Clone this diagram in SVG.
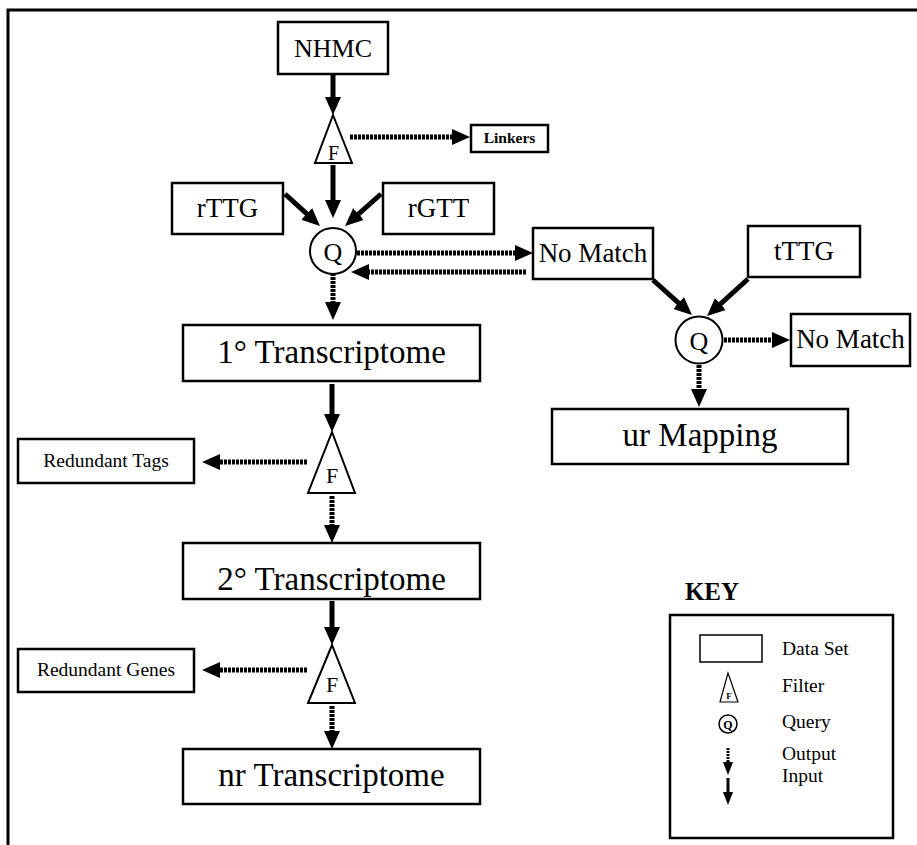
<svg xmlns="http://www.w3.org/2000/svg" width="917" height="845" viewBox="0 0 917 845">
<style>
  .box{fill:#fff;stroke:#000;stroke-width:2.5}
  .shape{fill:#fff;stroke:#000;stroke-width:2}
  .t{font-family:"Liberation Serif","Times New Roman",serif;fill:#000;text-anchor:middle}
  .tl{font-family:"Liberation Serif","Times New Roman",serif;fill:#000;text-anchor:start}
  .in{stroke:#000;stroke-width:5;fill:none}
  .out{stroke:#000;stroke-width:5;fill:none;stroke-dasharray:3 1}
  .kin{stroke:#000;stroke-width:3;fill:none}
  .kout{stroke:#000;stroke-width:3;fill:none;stroke-dasharray:2 1}
</style>
<defs>
  <marker id="ah" markerUnits="userSpaceOnUse" markerWidth="18" markerHeight="16" refX="2" refY="8" orient="auto">
    <path d="M0,0 L18,8 L0,16 z" fill="#000"/>
  </marker>
  <marker id="ahs" markerUnits="userSpaceOnUse" markerWidth="13" markerHeight="10" refX="1" refY="5" orient="auto">
    <path d="M0,0 L13,5 L0,10 z" fill="#000"/>
  </marker>
</defs>
<rect width="917" height="845" fill="#fff"/>
<g id="frame">
  <path d="M8,845 L8,10 L917,10" fill="none" stroke="#000" stroke-width="3"/>
</g>
<g id="connectors">
  <line class="in" x1="333" y1="75" x2="333" y2="99" marker-end="url(#ah)"/>
  <line class="out" x1="350" y1="137" x2="454" y2="137" marker-end="url(#ah)"/>
  <line class="in" x1="333" y1="165" x2="333" y2="202" marker-end="url(#ah)"/>
  <line class="in" x1="285" y1="194" x2="308.2" y2="215.2" marker-end="url(#ah)"/>
  <line class="in" x1="381" y1="194" x2="357" y2="215.4" marker-end="url(#ah)"/>
  <line class="out" x1="357" y1="253" x2="517" y2="253" marker-end="url(#ah)"/>
  <line class="out" x1="526" y1="272" x2="367" y2="272" marker-end="url(#ah)"/>
  <line class="out" x1="333" y1="273" x2="333" y2="304" marker-end="url(#ah)"/>
  <line class="in" x1="653" y1="280" x2="680.1" y2="304.3" marker-end="url(#ah)"/>
  <line class="in" x1="748" y1="279" x2="718.9" y2="305.3" marker-end="url(#ah)"/>
  <line class="out" x1="724" y1="340" x2="774" y2="340" marker-end="url(#ah)"/>
  <line class="out" x1="699" y1="365" x2="699" y2="391" marker-end="url(#ah)"/>
  <line class="in" x1="332" y1="384" x2="332" y2="416" marker-end="url(#ah)"/>
  <line class="out" x1="307" y1="462" x2="218" y2="462" marker-end="url(#ah)"/>
  <line class="out" x1="332" y1="496" x2="332" y2="527" marker-end="url(#ah)"/>
  <line class="in" x1="332" y1="601" x2="332" y2="629" marker-end="url(#ah)"/>
  <line class="out" x1="307" y1="670" x2="218" y2="670" marker-end="url(#ah)"/>
  <line class="out" x1="332" y1="706" x2="332" y2="733" marker-end="url(#ah)"/>
</g>
<g id="nhmc">
  <rect class="box" x="278" y="22" width="110" height="52"/>
  <text class="t" x="333" y="57" font-size="26">NHMC</text>
</g>
<g id="filter1">
  <polygon class="shape" points="333,115 352,163 315,163"/>
  <text class="t" x="333.5" y="160" font-size="20">F</text>
</g>
<g id="linkers">
  <rect class="box" x="471" y="125" width="77" height="27"/>
  <text class="t" x="509.5" y="143" font-size="15.5" font-weight="bold">Linkers</text>
</g>
<g id="rttg">
  <rect class="box" x="172" y="183" width="111" height="51"/>
  <text class="t" x="227.5" y="217" font-size="27">rTTG</text>
</g>
<g id="rgtt">
  <rect class="box" x="383" y="183" width="111" height="51"/>
  <text class="t" x="438.5" y="217" font-size="27">rGTT</text>
</g>
<g id="query1">
  <circle class="shape" cx="333" cy="251" r="23"/>
  <text class="t" x="333" y="261" font-size="26">Q</text>
</g>
<g id="nomatch1">
  <rect class="box" x="533" y="228" width="120" height="51"/>
  <text class="t" x="593" y="262" font-size="27">No Match</text>
</g>
<g id="tttg">
  <rect class="box" x="748" y="226" width="112" height="51"/>
  <text class="t" x="804" y="260" font-size="27">tTTG</text>
</g>
<g id="query2">
  <circle class="shape" cx="699" cy="340" r="23.5"/>
  <text class="t" x="699" y="350" font-size="26">Q</text>
</g>
<g id="nomatch2">
  <rect class="box" x="791" y="314" width="119" height="52"/>
  <text class="t" x="850.5" y="348" font-size="27">No Match</text>
</g>
<g id="urmapping">
  <rect class="box" x="552" y="409" width="296" height="55"/>
  <text class="t" x="700" y="446" font-size="33">ur Mapping</text>
</g>
<g id="transcriptome1">
  <rect class="box" x="183" y="325" width="297" height="56"/>
  <text class="t" x="331.5" y="363" font-size="33">1° Transcriptome</text>
</g>
<g id="filter2">
  <polygon class="shape" points="332,432 355,493 308,493"/>
  <text class="t" x="332" y="483" font-size="22">F</text>
</g>
<g id="redundanttags">
  <rect class="box" x="18" y="439" width="176" height="44"/>
  <text class="t" x="106" y="467" font-size="19.5">Redundant Tags</text>
</g>
<g id="transcriptome2">
  <rect class="box" x="183" y="543" width="297" height="56"/>
  <text class="t" x="331.5" y="590" font-size="33">2° Transcriptome</text>
</g>
<g id="filter3">
  <polygon class="shape" points="332,645 355,703 308,703"/>
  <text class="t" x="332" y="692" font-size="22">F</text>
</g>
<g id="redundantgenes">
  <rect class="box" x="18" y="649" width="176" height="43"/>
  <text class="t" x="106" y="676" font-size="19.5">Redundant Genes</text>
</g>
<g id="nrtranscriptome">
  <rect class="box" x="183" y="749" width="297" height="55"/>
  <text class="t" x="331.5" y="786" font-size="33">nr Transcriptome</text>
</g>
<g id="key">
  <text class="t" x="712" y="600" font-size="25" font-weight="bold">KEY</text>
  <rect class="box" x="670" y="615" width="223" height="223"/>
  <rect x="700" y="635" width="62" height="27" fill="#fff" stroke="#000" stroke-width="1.5"/>
  <text class="tl" x="782" y="655" font-size="19.5">Data Set</text>
  <polygon points="728,673 738,702 720,702" fill="#fff" stroke="#000" stroke-width="1.2"/>
  <text class="t" x="729" y="699" font-size="9" font-weight="bold">F</text>
  <text class="tl" x="782" y="692" font-size="19.5">Filter</text>
  <circle cx="728" cy="724" r="9" fill="#fff" stroke="#000" stroke-width="1.5"/>
  <text class="t" x="728" y="728.5" font-size="12" font-weight="bold">Q</text>
  <text class="tl" x="782" y="728" font-size="19.5">Query</text>
  <line class="kout" x1="728" y1="748" x2="728" y2="763" marker-end="url(#ahs)"/>
  <text class="tl" x="782" y="760" font-size="19.5">Output</text>
  <line class="kin" x1="728" y1="778" x2="728" y2="793" marker-end="url(#ahs)"/>
  <text class="tl" x="782" y="782" font-size="19.5">Input</text>
</g>
</svg>
